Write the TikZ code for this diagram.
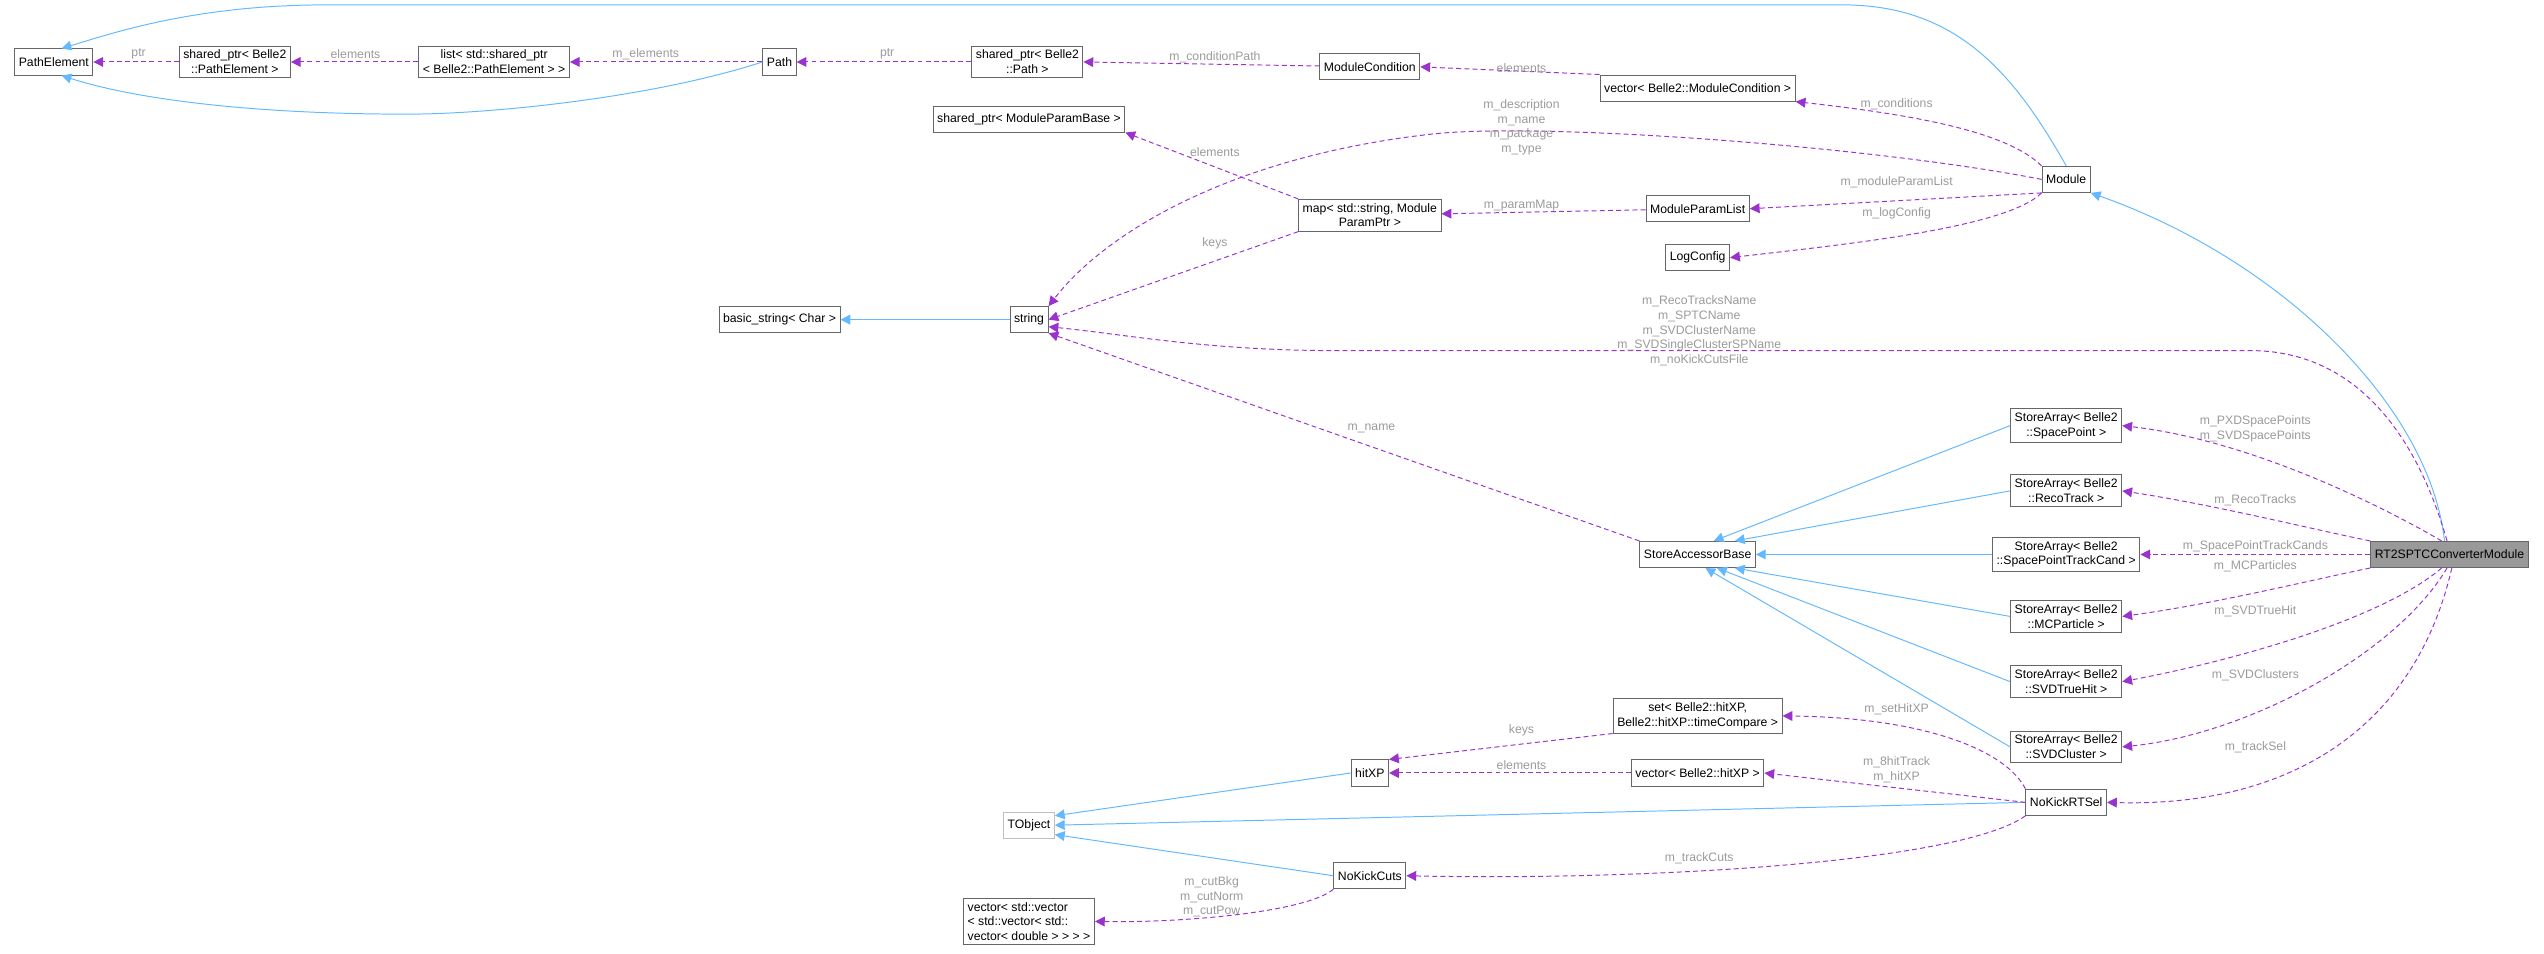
\documentclass[tikz,border=0pt]{standalone}
\usepackage{fontspec}
\setmainfont{Liberation Sans}
\usetikzlibrary{arrows.meta}
\definecolor{inhblue}{HTML}{63B8FF}
\definecolor{usepurple}{HTML}{9A32CD}
\definecolor{lblgray}{HTML}{9A9A9A}
\tikzset{
  cls/.style={draw=black!60, line width=0.6pt, fill=white, inner sep=2.5pt, minimum height=16pt,
    align=center, font=\fontsize{7.5}{9}\selectfont},
  inh/.style={draw=inhblue, line width=0.6pt, -{Triangle[length=6pt,width=6pt]}},
  use/.style={draw=usepurple, line width=0.6pt, dashed, dash pattern=on 3pt off 2pt,
    -{Triangle[length=6pt,width=6pt]}},
  lbl/.style={text=lblgray, align=center, inner sep=0pt, font=\fontsize{7.5}{9}\selectfont}
}
\begin{document}
\begin{tikzpicture}[x=1pt,y=-1pt]
\useasboundingbox (0,0) rectangle (1560,585);
% classes
\node[cls] (pathelem) at (33,38) {PathElement};
\node[cls] (spelem) at (144,38) {shared\_ptr< Belle2\\::PathElement >};
\node[cls] (listelem) at (303,38) {list< std::shared\_ptr\\< Belle2::PathElement > >};
\node[cls] (path) at (478,38) {Path};
\node[cls] (sppath) at (630,38) {shared\_ptr< Belle2\\::Path >};
\node[cls] (modcond) at (840,41) {ModuleCondition};
\node[cls] (vecmodcond) at (1041,54) {vector< Belle2::ModuleCondition >};
\node[cls] (spparam) at (631,73) {shared\_ptr< ModuleParamBase >};
\node[cls] (module) at (1267,110) {Module};
\node[cls] (parammap) at (840,132) {map< std::string, Module\\ParamPtr >};
\node[cls] (paramlist) at (1041,128) {ModuleParamList};
\node[cls] (logcfg) at (1041,158) {LogConfig};
\node[cls] (basicstr) at (478,196) {basic\_string< Char >};
\node[cls] (string) at (631,196) {string};
\node[cls] (accbase) at (1041,340) {StoreAccessorBase};
\node[cls] (saspoint) at (1267,261) {StoreArray< Belle2\\::SpacePoint >};
\node[cls] (sareco) at (1267,301) {StoreArray< Belle2\\::RecoTrack >};
\node[cls] (sasptc) at (1267,340) {StoreArray< Belle2\\::SpacePointTrackCand >};
\node[cls] (samcp) at (1267,378) {StoreArray< Belle2\\::MCParticle >};
\node[cls] (satrue) at (1267,418) {StoreArray< Belle2\\::SVDTrueHit >};
\node[cls] (saclus) at (1267,458) {StoreArray< Belle2\\::SVDCluster >};
\node[cls, fill=black!40] (conv) at (1502,340) {RT2SPTCConverterModule};
\node[cls] (sethit) at (1041,439) {set< Belle2::hitXP,\\Belle2::hitXP::timeCompare >};
\node[cls] (vechit) at (1041,474) {vector< Belle2::hitXP >};
\node[cls] (hitxp) at (840,474) {hitXP};
\node[cls] (rtsel) at (1267,492) {NoKickRTSel};
\node[cls, draw=black!25] (tobject) at (631,506) {TObject};
\node[cls] (cuts) at (840,537) {NoKickCuts};
\node[cls, align=left] (veccut) at (631,565) {vector< std::vector\\< std::vector< std::\\vector< double > > > >};
% inheritance
\draw[inh] (module.north) .. controls (1235,45) and (1200,3) .. (1130,3) -- (200,3) .. controls (120,3) and (70,20) .. (pathelem.60);
\draw[inh] (path.west) .. controls (400,60) and (300,70) .. (250,70) .. controls (150,70) and (80,60) .. (pathelem.-60);
\draw[inh] (string) -- (basicstr);
\draw[inh] (conv.110) .. controls (1490,250) and (1400,160) .. (module.south east);
\foreach \sa/\ang in {saspoint/40, sareco/20, sasptc/0, samcp/-20, satrue/-35, saclus/-60}
  \draw[inh] (\sa.west) -- (accbase.\ang);
\draw[inh] (hitxp.west) -- (tobject.20);
\draw[inh] (rtsel.west) -- (tobject.east);
\draw[inh] (cuts.west) -- (tobject.-20);
% usage
\draw[use] (spelem) -- (pathelem);
\draw[use] (listelem) -- (spelem);
\draw[use] (path) -- (listelem);
\draw[use] (sppath) -- (path);
\draw[use] (modcond) -- (sppath.east);
\draw[use] (vecmodcond.north west) -- (modcond.east);
\draw[use] (module.north west) .. controls (1230,80) and (1170,70) .. (vecmodcond.south east);
\draw[use] (module.west) .. controls (1150,90) and (950,75) .. (880,82) .. controls (760,95) and (680,140) .. (string.north east);
\draw[use] (parammap.north west) -- (spparam.south east);
\draw[use] (parammap.south west) -- (string.east);
\draw[use] (paramlist) -- (parammap);
\draw[use] (module.south west) -- (paramlist.east);
\draw[use] (module.south west) .. controls (1230,140) and (1130,150) .. (logcfg.east);
\draw[use] (conv.100) .. controls (1480,260) and (1440,215) .. (1380,215) -- (820,215) .. controls (740,215) and (690,205) .. (string.-20);
\draw[use] (accbase.north west) -- (string.south east);
\draw[use] (conv.120) .. controls (1460,310) and (1380,270) .. (saspoint.east);
\draw[use] (conv.north west) .. controls (1420,325) and (1360,310) .. (sareco.east);
\draw[use] (conv.west) -- (sasptc.east);
\draw[use] (conv.south west) .. controls (1420,355) and (1360,370) .. (samcp.east);
\draw[use] (conv.-120) .. controls (1460,380) and (1370,405) .. (satrue.east);
\draw[use] (conv.-100) .. controls (1470,400) and (1380,450) .. (saclus.east);
\draw[use] (conv.-80) .. controls (1480,450) and (1400,495) .. (rtsel.east);
\draw[use] (sethit.south west) -- (hitxp.north east);
\draw[use] (vechit) -- (hitxp);
\draw[use] (rtsel.north west) .. controls (1230,460) and (1180,440) .. (sethit.east);
\draw[use] (rtsel.west) -- (vechit.east);
\draw[use] (rtsel.south west) .. controls (1200,530) and (1000,540) .. (cuts.east);
\draw[use] (cuts.south west) .. controls (800,560) and (720,566) .. (veccut.east);
% labels
\node[lbl] (l1) at (85,33) {ptr};
\node[lbl] (l2) at (218,33) {elements};
\node[lbl] (l3) at (396,33) {m\_elements};
\node[lbl] (l4) at (544,33) {ptr};
\node[lbl] (l5) at (745,35) {m\_conditionPath};
\node[lbl] (l6) at (933,42) {elements};
\node[lbl] (l7) at (1163,64) {m\_conditions};
\node[lbl] (l8) at (933,78) {m\_description\\m\_name\\m\_package\\m\_type};
\node[lbl] (l9) at (745,93) {elements};
\node[lbl] (l10) at (1163,112) {m\_moduleParamList};
\node[lbl] (l11) at (933,126) {m\_paramMap};
\node[lbl] (l12) at (1163,131) {m\_logConfig};
\node[lbl] (l13) at (745,149) {keys};
\node[lbl] (l14) at (1042,203) {m\_RecoTracksName\\m\_SPTCName\\m\_SVDClusterName\\m\_SVDSingleClusterSPName\\m\_noKickCutsFile};
\node[lbl] (l15) at (841,263) {m\_name};
\node[lbl] (l16) at (1383,263) {m\_PXDSpacePoints\\m\_SVDSpacePoints};
\node[lbl] (l17) at (1383,307) {m\_RecoTracks};
\node[lbl] (l18) at (1383,335) {m\_SpacePointTrackCands};
\node[lbl] (l19) at (1383,347) {m\_MCParticles};
\node[lbl] (l20) at (1383,375) {m\_SVDTrueHit};
\node[lbl] (l21) at (1383,414) {m\_SVDClusters};
\node[lbl] (l22) at (1163,435) {m\_setHitXP};
\node[lbl] (l23) at (1383,458) {m\_trackSel};
\node[lbl] (l24) at (933,448) {keys};
\node[lbl] (l25) at (933,469) {elements};
\node[lbl] (l26) at (1163,472) {m\_8hitTrack\\m\_hitXP};
\node[lbl] (l27) at (1042,526) {m\_trackCuts};
\node[lbl] (l28) at (743,550) {m\_cutBkg\\m\_cutNorm\\m\_cutPow};
\end{tikzpicture}
\end{document}
